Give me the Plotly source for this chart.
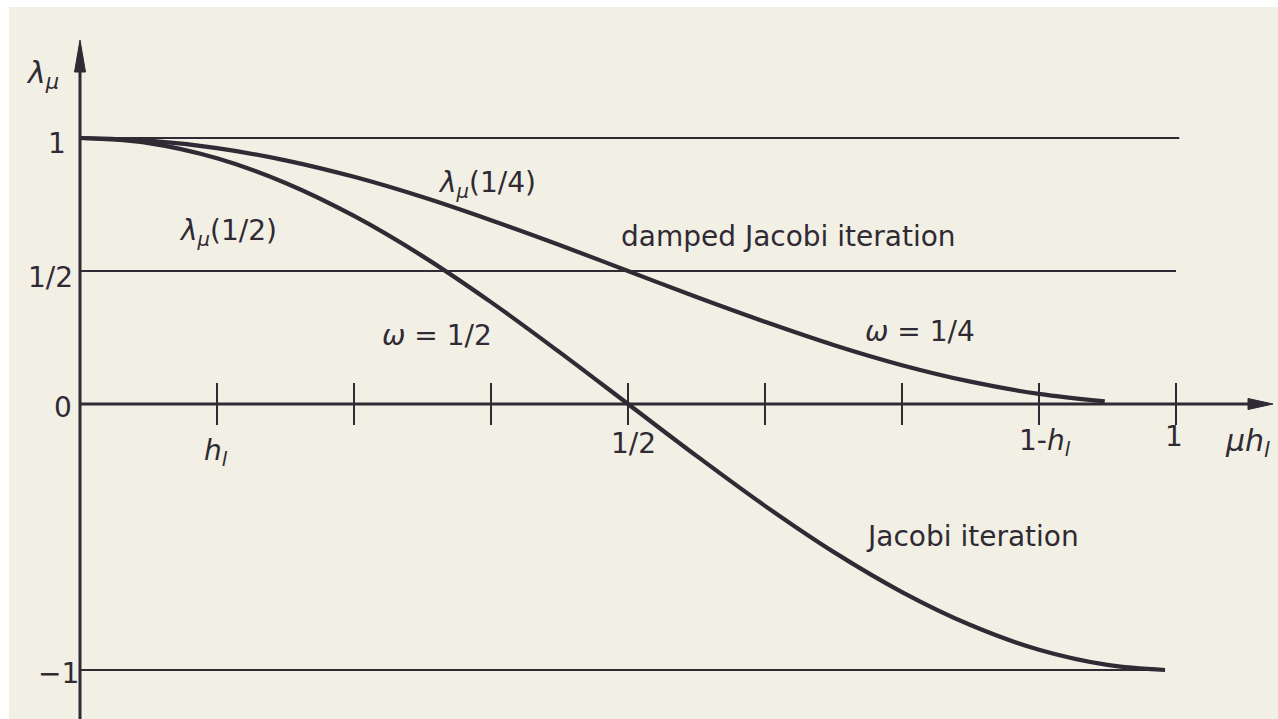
import plotly.graph_objects as go

# --- chart data -----------------------------------------------------------
# abscissa mu*h_l and the two eigenvalue curves lambda_mu(omega)
mu_h = [0.0, 0.0625, 0.125, 0.1875, 0.25, 0.3125, 0.375, 0.4375, 0.5,
        0.5625, 0.625, 0.6875, 0.75, 0.8125, 0.875, 0.9375, 0.99]
lam_half = [1.000, 0.981, 0.924, 0.831, 0.707, 0.556, 0.383, 0.195, 0.000,
            -0.195, -0.383, -0.556, -0.707, -0.831, -0.924, -0.981, -1.000]

mu_h_q = [0.0, 0.0625, 0.125, 0.1875, 0.25, 0.3125, 0.375, 0.4375, 0.5,
          0.5625, 0.625, 0.6875, 0.75, 0.8125, 0.875, 0.935]
lam_quarter = [1.000, 0.990, 0.962, 0.916, 0.854, 0.778, 0.691, 0.598, 0.500,
               0.402, 0.309, 0.222, 0.146, 0.084, 0.038, 0.010]

# horizontal guide levels and their extent along mu*h_l
guide_levels = [1.0, 0.5, -1.0]
guide_ends = [1.003, 1.0, 0.99]

# x-axis tick marks (multiples of h_l = 1/8) and labelled ticks
tick_marks = [0.125, 0.25, 0.375, 0.5, 0.625, 0.75, 0.875, 1.0]
x_tick_vals = [0.125, 0.5, 0.875, 1.0]
x_tick_text = ["<i>h</i><sub><i>l</i></sub>", "1/2",
               "1-<i>h</i><sub><i>l</i></sub>", "1"]
y_tick_vals = [1.0, 0.5, 0.0, -1.0]
y_tick_text = ["1", "1/2", "0", "\u22121"]

# --- styling ----------------------------------------------------------------
W, H = 1278, 719
X0_PX, X_UNIT = 80, 1096      # pixel of mu*h_l = 0 and pixels per unit
Y0_PX, Y_UNIT = 404, 266      # pixel of lambda = 0 and pixels per unit
INK = "#2f2a33"
PAPER = "#f2efe4"
FONT = "DejaVu Sans"
FS = 28


def px_x(p):
    return (p - X0_PX) / X_UNIT


def px_y(p):
    return (Y0_PX - p) / Y_UNIT


x_rng = [px_x(0), px_x(W)]
y_rng = [px_y(H), px_y(0)]

fig = go.Figure()

# eigenvalue curves
for xs, ys in [(mu_h, lam_half), (mu_h_q, lam_quarter)]:
    fig.add_trace(go.Scatter(x=xs, y=ys, mode="lines",
                             line=dict(color=INK, width=4.2, shape="spline",
                                       smoothing=1.0),
                             hoverinfo="skip", showlegend=False))

# tick marks crossing the horizontal axis
fig.add_trace(go.Scatter(x=tick_marks, y=[0] * len(tick_marks), mode="markers",
                         marker=dict(symbol="line-ns", size=30,
                                     line=dict(color=INK, width=2)),
                         hoverinfo="skip", showlegend=False))

shapes = []
# guide lines at 1, 1/2, -1
for lvl, end in zip(guide_levels, guide_ends):
    shapes.append(dict(type="line", xref="x", yref="y", x0=0, x1=end,
                       y0=lvl, y1=lvl, line=dict(color=INK, width=1.8)))

# axes
y_tip = px_y(40)
x_tip = px_x(1273)
shapes.append(dict(type="line", xref="x", yref="y", x0=0, x1=0,
                   y0=y_rng[0], y1=px_y(60), line=dict(color=INK, width=3)))
shapes.append(dict(type="line", xref="x", yref="y", x0=0, x1=px_x(1255),
                   y0=0, y1=0, line=dict(color=INK, width=3)))
# arrow heads
hx = 5.5 / X_UNIT
hy = 5.5 / Y_UNIT
yb = px_y(72)
shapes.append(dict(type="path", xref="x", yref="y",
                   path=f"M {-hx} {yb} L 0 {y_tip} L {hx} {yb} Z",
                   fillcolor=INK, line=dict(color=INK, width=1)))
xb = px_x(1248)
shapes.append(dict(type="path", xref="x", yref="y",
                   path=f"M {xb} {-hy} L {x_tip} 0 L {xb} {hy} Z",
                   fillcolor=INK, line=dict(color=INK, width=1)))

# white scan border along top and left edges
shapes.append(dict(type="rect", xref="paper", yref="paper", x0=0, x1=9 / W,
                   y0=0, y1=1, fillcolor="white", line=dict(width=0),
                   layer="below"))
shapes.append(dict(type="rect", xref="paper", yref="paper", x0=0, x1=1,
                   y0=1 - 7 / H, y1=1, fillcolor="white", line=dict(width=0),
                   layer="below"))

ann = []


def label(text, px, py, size=FS, **kw):
    ann.append(dict(text=text, x=px_x(px), y=px_y(py), xref="x", yref="y",
                    showarrow=False, xanchor="center", yanchor="middle",
                    font=dict(family=FONT, size=size, color=INK), **kw))


# tick labels
tick_px = [216, 633, 1045, 1174]
tick_py = [452, 443, 442, 436]
for v, t, px, py in zip(x_tick_vals, x_tick_text, tick_px, tick_py):
    label(t, px, py)
ytick_px = [57, 50, 63, 58]
ytick_py = [143, 277, 407, 673]
for v, t, px, py in zip(y_tick_vals, y_tick_text, ytick_px, ytick_py):
    label(t, px, py)

# axis titles
label("<i>\u03bb</i><sub><i>\u03bc</i></sub>", 42, 74, size=30)
label("<i>\u03bc</i><i>h</i><sub><i>l</i></sub>", 1247, 442, size=30)

# curve annotations
label("<i>\u03bb</i><sub><i>\u03bc</i></sub>(1/4)", 487, 184)
label("<i>\u03bb</i><sub><i>\u03bc</i></sub>(1/2)", 228, 232)
label("damped Jacobi iteration", 788, 236)
label("<i>\u03c9</i> = 1/2", 437, 335)
label("<i>\u03c9</i> = 1/4", 920, 331)
label("Jacobi iteration", 972, 536)

fig.update_layout(
    width=W, height=H,
    margin=dict(l=0, r=0, t=0, b=0),
    paper_bgcolor=PAPER, plot_bgcolor=PAPER,
    xaxis=dict(range=x_rng, visible=False, fixedrange=True),
    yaxis=dict(range=y_rng, visible=False, fixedrange=True),
    shapes=shapes, annotations=ann,
    showlegend=False,
)

fig.write_html("out.html")
